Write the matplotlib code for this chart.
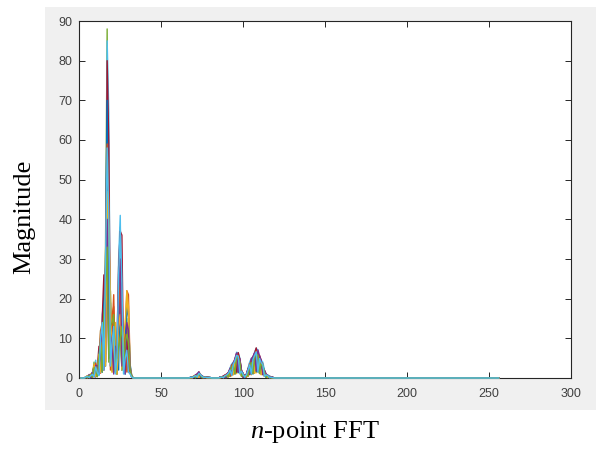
import numpy as np
import matplotlib.pyplot as plt
from matplotlib.patches import Rectangle

plt.rcParams['mathtext.fontset'] = 'custom'
plt.rcParams['mathtext.rm'] = 'Liberation Serif'
plt.rcParams['mathtext.it'] = 'Liberation Serif:italic'

n_fft = 256
bins = np.arange(1, n_fft + 1)

# magnitude per frame, bins 4..32 (low band)
low_bins = np.arange(4, 33)
low = [
    [0.2, 0.1, 0.5, 0.1, 1.2, 2.5, 0.4, 2.2, 0.8, 9, 1.5, 18, 3, 61, 6, 14, 2, 14, 1.5, 5, 2, 28, 4, 7, 1, 8, 5, 1.5, 0.3],
    [0.1, 0.3, 0.1, 0.4, 0.2, 3.0, 0.5, 1.5, 4, 1.2, 11, 2, 22, 44, 31, 3, 11, 21, 2, 4, 12, 22, 3, 6, 9, 22, 21, 3, 0.5],
    [0.3, 0.1, 0.5, 0.2, 0.6, 2.0, 3.5, 0.4, 6, 1.5, 10, 21, 4, 52, 8, 16, 1.5, 10, 12, 1, 9, 18, 2.5, 8, 12, 22, 18, 2.5, 0.4],
    [0.2, 0.6, 0.1, 0.5, 1.5, 0.3, 2.6, 0.6, 3.5, 10, 2, 14, 20, 36, 5, 9, 13, 3, 7, 1, 14, 20, 24, 2, 6, 12, 1.5, 2, 0.3],
    [0.1, 0.4, 0.2, 0.6, 0.2, 4.0, 0.6, 1.8, 1.5, 12, 9, 3, 33, 88, 10, 22, 2, 8, 11, 1, 8, 12, 2, 4, 7, 15, 1.5, 1.8, 0.2],
    [0.3, 0.1, 0.5, 0.2, 1.1, 2.2, 4.5, 0.4, 5, 1.5, 16, 19, 6, 85, 67, 3, 9, 12, 2, 7, 30, 41, 5, 8, 1, 6, 4, 1.2, 0.4],
    [0.2, 0.4, 0.1, 0.3, 0.9, 3.2, 0.3, 2.5, 8, 1.8, 15, 26, 4, 80, 59, 6, 12, 2, 6, 9, 28, 37, 36, 3, 8, 10, 1.5, 2.2, 0.3],
    [0.1, 0.5, 0.3, 0.1, 1.3, 2.8, 0.3, 1.2, 6, 9, 1.5, 17, 28, 70, 8, 19, 7, 1.5, 13, 4, 10, 14, 2, 5, 10, 18, 15, 3.5, 0.6],
    [0.2, 0.1, 0.7, 0.5, 0.2, 1.8, 3.8, 0.5, 4, 12, 14, 3, 30, 59, 44, 2, 16, 18, 1.5, 6, 18, 25, 3, 7, 11, 1.5, 6, 1.5, 0.2],
    [0.3, 0.6, 0.1, 1.1, 0.5, 3.5, 0.4, 1.7, 6, 1.5, 11, 13, 3, 47, 38, 21, 1.5, 11, 14, 1, 13, 16, 2, 10, 14, 20, 16, 2.8, 0.5],
    [0.1, 0.2, 0.9, 0.1, 1.4, 0.3, 3.1, 3.2, 1, 8, 13, 2, 27, 40, 5, 11, 8, 1, 8, 5, 22, 30, 3, 6, 1, 14, 12, 2.4, 0.3],
    [0.2, 0.1, 0.6, 0.8, 0.2, 2.6, 1.9, 0.3, 5, 9, 1.5, 16, 21, 33, 4, 13, 14, 16, 1.5, 6, 8, 10, 13, 2, 9, 11, 9, 1.9, 0.4],
    [0.3, 0.4, 0.1, 0.6, 0.9, 0.3, 2.8, 1.4, 0.6, 10, 14, 2, 29, 58, 41, 3, 9, 13, 1, 5, 26, 38, 25, 1, 5, 7, 1.5, 1.0, 0.2],
]

# small bump, bins 68..80
mid_bins = np.arange(68, 81)
mid = [
    [0.1, 0.2, 0.4, 0.1, 0.8, 1.1, 0.2, 0.4, 0.2, 0.3, 0.1, 0.1, 0.1],
    [0.2, 0.1, 0.5, 0.8, 0.2, 1.5, 0.9, 0.1, 0.3, 0.2, 0.1, 0.2, 0.1],
    [0.1, 0.1, 0.3, 0.5, 0.7, 0.2, 0.6, 0.3, 0.1, 0.2, 0.1, 0.1, 0.0],
    [0.2, 0.3, 0.1, 0.7, 0.9, 1.3, 0.2, 0.5, 0.3, 0.1, 0.2, 0.1, 0.1],
    [0.1, 0.2, 0.4, 0.1, 0.8, 1.2, 0.7, 0.1, 0.2, 0.2, 0.1, 0.1, 0.1],
    [0.2, 0.1, 0.5, 0.7, 0.2, 1.4, 0.9, 0.5, 0.1, 0.3, 0.2, 0.1, 0.1],
    [0.1, 0.2, 0.1, 0.6, 0.9, 0.3, 0.8, 0.4, 0.2, 0.1, 0.1, 0.1, 0.1],
    [0.2, 0.2, 0.3, 0.1, 0.7, 1.0, 0.2, 0.4, 0.2, 0.3, 0.1, 0.2, 0.1],
    [0.1, 0.3, 0.5, 0.7, 0.2, 1.3, 0.8, 0.1, 0.3, 0.2, 0.2, 0.1, 0.0],
    [0.1, 0.1, 0.3, 0.6, 0.8, 0.2, 0.7, 0.3, 0.2, 0.1, 0.1, 0.1, 0.1],
    [0.2, 0.3, 0.1, 0.8, 1.1, 1.6, 0.3, 0.5, 0.1, 0.3, 0.2, 0.1, 0.1],
    [0.1, 0.2, 0.4, 0.1, 0.7, 0.9, 0.6, 0.1, 0.2, 0.2, 0.1, 0.1, 0.0],
    [0.2, 0.1, 0.4, 0.6, 0.2, 1.2, 0.8, 0.4, 0.1, 0.2, 0.1, 0.1, 0.1],
]

# second harmonic group, bins 86..118
high_bins = np.arange(86, 119)
high = [
    [0.1, 0.2, 0.1, 0.5, 0.2, 1.0, 0.4, 2.6, 3.2, 1.0, 5.2, 4.8, 1.2, 1.5, 0.2, 0.5, 0.8, 0.4, 2.9, 3.8, 1.0, 5.2, 6.0, 1.5, 4.3, 3.4, 0.8, 1.4, 0.2, 0.5, 0.1, 0.2, 0.1],
    [0.2, 0.1, 0.4, 0.1, 0.9, 0.3, 2.2, 3.0, 0.9, 4.6, 6.1, 1.5, 4.4, 1.8, 0.9, 0.2, 0.7, 2.1, 0.8, 4.4, 5.0, 1.2, 6.9, 6.4, 1.3, 4.0, 3.6, 0.5, 0.9, 0.6, 0.1, 0.2, 0.1],
    [0.1, 0.3, 0.2, 0.4, 0.1, 1.1, 1.5, 0.5, 2.9, 3.6, 1.1, 4.9, 3.9, 0.4, 0.8, 0.4, 0.2, 1.5, 2.6, 0.8, 4.1, 4.8, 1.3, 5.8, 4.6, 0.9, 3.2, 1.5, 0.2, 0.4, 0.3, 0.1, 0.1],
    [0.2, 0.2, 0.5, 0.7, 0.2, 1.4, 2.4, 3.4, 1.0, 4.9, 6.2, 6.0, 1.2, 1.9, 1.0, 0.2, 0.9, 2.4, 3.8, 1.2, 5.3, 6.3, 7.3, 1.7, 5.3, 4.3, 1.0, 1.9, 1.0, 0.2, 0.5, 0.3, 0.2],
    [0.1, 0.2, 0.3, 0.1, 0.8, 1.2, 0.5, 2.8, 3.4, 4.2, 1.4, 5.3, 4.1, 1.7, 0.2, 0.5, 0.7, 0.5, 3.1, 4.0, 4.6, 1.4, 6.2, 5.9, 1.2, 3.7, 3.2, 0.4, 0.8, 0.5, 0.1, 0.2, 0.1],
    [0.2, 0.3, 0.1, 0.7, 0.9, 0.4, 2.5, 3.5, 4.0, 1.2, 6.5, 6.3, 5.0, 0.5, 1.0, 0.8, 0.2, 2.5, 4.0, 5.0, 1.4, 6.5, 7.5, 7.0, 1.4, 4.5, 4.0, 2.0, 0.2, 0.8, 0.5, 0.1, 0.2],
    [0.3, 0.1, 0.5, 0.8, 1.0, 1.4, 0.6, 3.2, 3.7, 4.7, 1.5, 6.4, 4.7, 1.9, 0.2, 0.7, 0.9, 2.3, 0.9, 4.6, 5.2, 6.2, 7.6, 1.8, 5.7, 4.4, 1.0, 1.9, 0.9, 0.2, 0.4, 0.3, 0.2],
    [0.1, 0.2, 0.3, 0.5, 0.2, 1.2, 2.1, 0.7, 3.5, 4.3, 5.6, 1.3, 4.2, 1.6, 0.7, 0.1, 0.8, 1.9, 3.2, 1.0, 4.8, 5.6, 1.6, 6.1, 4.8, 1.0, 3.3, 1.6, 0.2, 0.5, 0.3, 0.1, 0.1],
    [0.2, 0.3, 0.1, 0.6, 0.8, 1.3, 0.5, 3.1, 3.6, 1.1, 5.9, 5.7, 4.5, 0.5, 0.9, 0.6, 0.2, 2.2, 3.4, 4.5, 1.2, 5.9, 6.8, 6.5, 1.3, 4.1, 3.5, 0.4, 0.9, 0.6, 0.1, 0.2, 0.1],
    [0.1, 0.2, 0.3, 0.4, 0.6, 0.2, 1.7, 2.4, 0.8, 3.8, 4.9, 4.7, 1.0, 1.4, 0.7, 0.4, 0.6, 0.4, 2.7, 3.5, 4.2, 1.2, 5.7, 5.3, 4.2, 0.8, 2.9, 1.4, 0.7, 0.1, 0.3, 0.1, 0.1],
    [0.2, 0.3, 0.5, 0.1, 0.9, 1.4, 2.4, 0.8, 3.9, 4.8, 6.3, 1.5, 4.9, 1.9, 0.2, 0.7, 1.0, 2.4, 1.0, 4.9, 5.4, 6.4, 1.8, 7.1, 5.6, 4.5, 0.9, 1.9, 1.0, 0.7, 0.1, 0.3, 0.2],
    [0.1, 0.2, 0.3, 0.5, 0.7, 0.3, 1.9, 2.7, 3.3, 1.0, 5.4, 5.1, 4.0, 0.4, 0.8, 0.5, 0.7, 0.5, 3.0, 3.9, 1.1, 5.3, 6.1, 5.7, 1.1, 3.6, 3.1, 1.5, 0.2, 0.5, 0.3, 0.1, 0.1],
    [0.2, 0.2, 0.1, 0.6, 0.8, 1.2, 2.0, 0.7, 3.5, 4.4, 5.7, 5.5, 1.1, 1.7, 0.8, 0.2, 0.8, 2.0, 3.3, 1.0, 4.7, 5.7, 6.6, 1.5, 4.9, 3.9, 3.4, 0.4, 0.8, 0.6, 0.1, 0.2, 0.1],
]

# MATLAB default line colour order
colors = ['#0072BD', '#D95319', '#EDB120', '#7E2F8E', '#77AC30', '#4DBEEE', '#A2142F']

fig = plt.figure(figsize=(5.96, 4.53), dpi=100)
fig.patches.append(Rectangle((45 / 596, 1 - 410 / 453), 551 / 596, 403 / 453,
                             transform=fig.transFigure, facecolor='#f0f0f0',
                             edgecolor='none', zorder=-1))

ax = fig.add_axes([79.3 / 596, 75 / 453, 491.5 / 596, 357 / 453])
ax.set_zorder(1)
ax.set_facecolor('white')

for i in range(len(low)):
    mag = np.zeros(n_fft)
    mag[low_bins - 1] = low[i]
    mag[mid_bins - 1] = mid[i]
    mag[high_bins - 1] = high[i]
    ax.plot(bins, mag, color=colors[i % len(colors)], lw=1.0, zorder=3, clip_on=False)

ax.set_xlim(0, 300)
ax.set_ylim(0, 90)
ax.set_xticks(np.arange(0, 301, 50))
ax.set_yticks(np.arange(0, 91, 10))

for s in ax.spines.values():
    s.set_color('#262626')
    s.set_linewidth(0.8)
ax.tick_params(direction='in', length=4, width=0.7, color='#262626',
               top=True, right=True, labelsize=9, labelcolor='#404040')
ax.tick_params(axis='x', pad=7)
ax.tick_params(axis='y', pad=5)
for lab in ax.get_xticklabels() + ax.get_yticklabels():
    lab.set_family('Liberation Sans')

fig.text(24 / 596, 1 - 217 / 453, 'Magnitude', rotation=90, ha='center', va='center',
         family='Liberation Serif', fontsize=19)
fig.text(315 / 596, 1 - 432 / 453, r'$n$-point FFT', ha='center', va='center',
         family='Liberation Serif', fontsize=19)

fig.savefig('out.png', dpi=100)
